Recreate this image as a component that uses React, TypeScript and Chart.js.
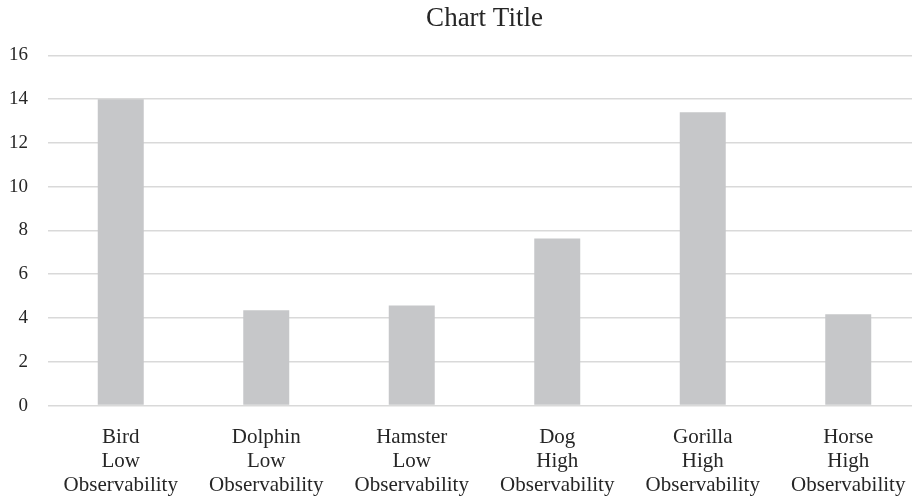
import React, { useEffect, useRef } from "react";
import { Chart, registerables } from "chart.js";

Chart.register(...registerables);

// Category labels, one line per array entry
const animals = ["Bird", "Dolphin", "Hamster", "Dog", "Gorilla", "Horse"];
const observability = ["Low", "Low", "Low", "High", "High", "High"];
const values = [14, 4.35, 4.57, 7.63, 13.4, 4.17];

const yMin = 0;
const yMax = 16;
const yStep = 2;

const FONT = "'Liberation Serif', 'Times New Roman', serif";
const TEXT = "#262626";

export default function App() {
  const canvasRef = useRef<HTMLCanvasElement | null>(null);

  useEffect(() => {
    if (!canvasRef.current) return;
    const labels = animals.map((a, i) => [a, observability[i], "Observability"]);
    const chart = new Chart(canvasRef.current, {
      type: "bar",
      data: {
        labels,
        datasets: [
          {
            label: "Series 1",
            data: values,
            backgroundColor: "#c6c7c9",
            borderWidth: 0,
            barPercentage: 1,
            categoryPercentage: 0.316,
          },
        ],
      },
      options: {
        responsive: false,
        animation: false,
        layout: { padding: { left: 0, right: 9, top: 0, bottom: 0 } },
        plugins: {
          legend: { display: false },
          tooltip: { enabled: false },
          title: {
            display: true,
            fullSize: false,
            text: "Chart Title",
            color: TEXT,
            font: { family: FONT, size: 27, weight: "normal" },
            padding: { top: 3, bottom: 20 },
          },
        },
        scales: {
          x: {
            grid: { display: false },
            border: { display: false },
            ticks: {
              color: TEXT,
              font: { family: FONT, size: 21, lineHeight: 1.15 },
              padding: 12,
              maxRotation: 0,
              autoSkip: false,
            },
          },
          y: {
            min: yMin,
            max: yMax,
            border: { display: false },
            grid: { color: "#d9d9d9", lineWidth: 1.5, drawTicks: false },
            ticks: {
              stepSize: yStep,
              color: TEXT,
              font: { family: FONT, size: 19 },
              padding: 20,
            },
          },
        },
      },
    });
    return () => chart.destroy();
  }, []);

  return (
    <div
      style={{
        position: "fixed",
        left: 0,
        top: 0,
        width: 912,
        height: 498,
        overflow: "hidden",
        background: "#ffffff",
      }}
    >
      <canvas
        ref={canvasRef}
        width={941}
        height={510}
        style={{ display: "block", marginLeft: -11 }}
      />
    </div>
  );
}
